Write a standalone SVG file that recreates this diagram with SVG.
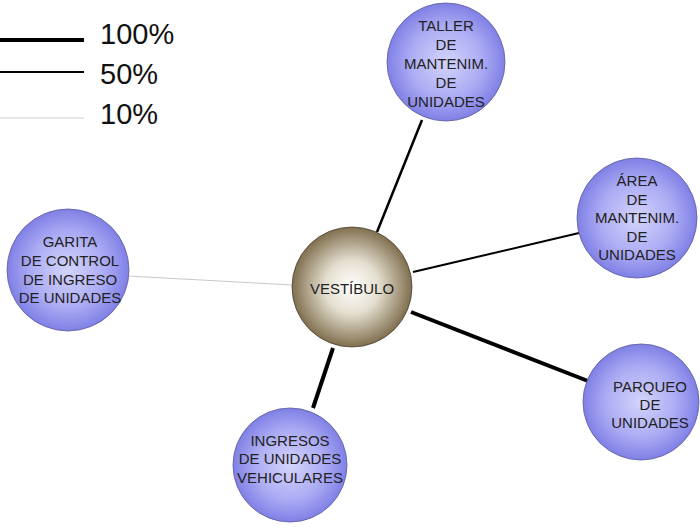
<svg xmlns="http://www.w3.org/2000/svg" width="700" height="527" viewBox="0 0 700 527">
<defs>
<radialGradient id="blue" cx="50%" cy="50%" r="50%">
<stop offset="0" stop-color="#d4d4fb"/>
<stop offset="0.6" stop-color="#acacf4"/>
<stop offset="1" stop-color="#8080e6"/>
</radialGradient>
<radialGradient id="brown" cx="50%" cy="50%" r="50%">
<stop offset="0" stop-color="#ffffff"/>
<stop offset="0.45" stop-color="#e4decf"/>
<stop offset="1" stop-color="#806f4f"/>
</radialGradient>
<style>
.n{fill:url(#blue);stroke:#5a5a9a;stroke-width:0.8}
.c{fill:url(#brown);stroke:#4d4232;stroke-width:0.8}
text{font-family:"Liberation Sans",Arial,sans-serif;font-size:15px;fill:#222222;text-anchor:middle}
.lg{font-size:29px;text-anchor:start;fill:#111111}
line{stroke:#000}
</style>
</defs>
<g id="legend">
<line x1="0" y1="40" x2="84" y2="40" stroke-width="4"/>
<line x1="0" y1="72" x2="84" y2="72" stroke-width="2"/>
<line x1="0" y1="118" x2="84" y2="118" style="stroke:#d0d0d0" stroke-width="1"/>
<text class="lg" x="100" y="44">100%</text>
<text class="lg" x="100" y="84">50%</text>
<text class="lg" x="100" y="124">10%</text>
</g>
<g id="connectors">
<line x1="377" y1="232" x2="422" y2="120" stroke-width="2.5"/>
<line x1="413" y1="272" x2="579" y2="233" stroke-width="2"/>
<line x1="128" y1="276" x2="292" y2="285" style="stroke:#c8c8c8" stroke-width="1"/>
<line x1="411" y1="312" x2="588" y2="381" stroke-width="4"/>
<line x1="333" y1="348" x2="313" y2="408" stroke-width="4"/>
</g>
<g id="taller">
<circle class="n" cx="446" cy="62" r="59"/>
<text x="446" y="31">TALLER</text>
<text x="446" y="50">DE</text>
<text x="446" y="69">MANTENIM.</text>
<text x="446" y="88">DE</text>
<text x="446" y="107">UNIDADES</text>
</g>
<g id="area">
<circle class="n" cx="637" cy="218" r="60"/>
<text x="637" y="186">ÁREA</text>
<text x="637" y="205">DE</text>
<text x="637" y="223">MANTENIM.</text>
<text x="637" y="242">DE</text>
<text x="637" y="260">UNIDADES</text>
</g>
<g id="vestibulo">
<circle class="c" cx="352" cy="287" r="60"/>
<text x="352" y="294">VESTÍBULO</text>
</g>
<g id="garita">
<circle class="n" cx="68" cy="270" r="61"/>
<text x="70" y="247">GARITA</text>
<text x="70" y="266">DE CONTROL</text>
<text x="70" y="285">DE INGRESO</text>
<text x="70" y="303">DE UNIDADES</text>
</g>
<g id="parqueo">
<circle class="n" cx="641" cy="402" r="58"/>
<text x="650" y="392">PARQUEO</text>
<text x="650" y="410">DE</text>
<text x="650" y="428">UNIDADES</text>
</g>
<g id="ingresos">
<circle class="n" cx="290" cy="465" r="57"/>
<text x="290" y="446">INGRESOS</text>
<text x="290" y="464">DE UNIDADES</text>
<text x="290" y="483">VEHICULARES</text>
</g>
</svg>
